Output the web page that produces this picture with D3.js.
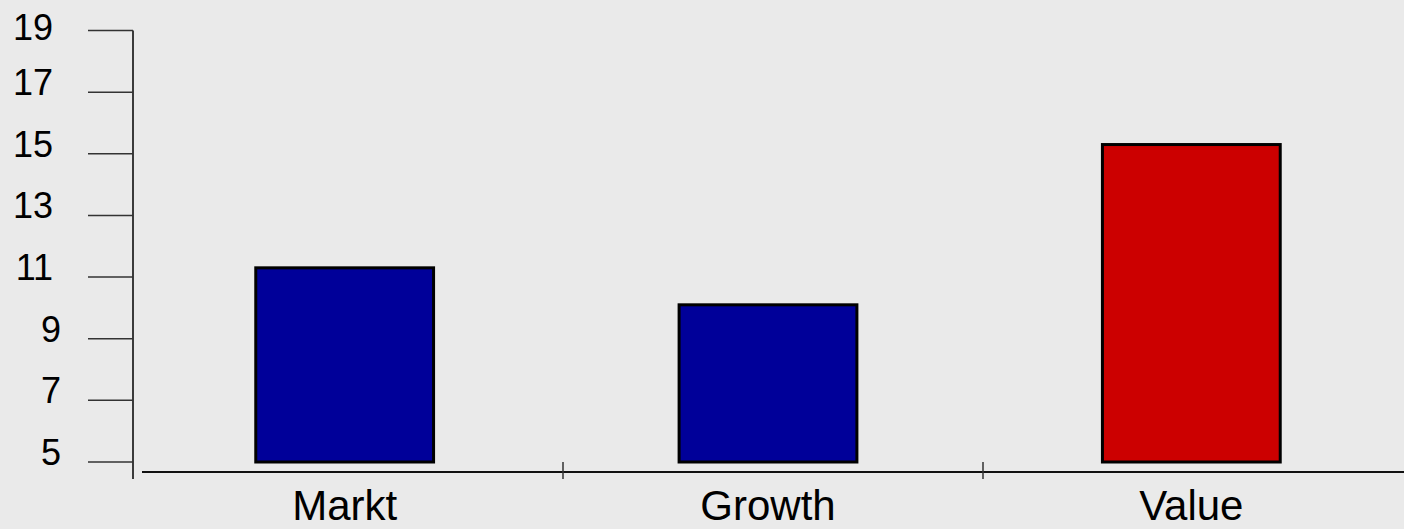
<!DOCTYPE html>
<html>
<head>
<meta charset="utf-8">
<script src="https://cdn.jsdelivr.net/npm/d3@7"></script>
<style>
  body { margin: 0; background: #eaeaea; }
  svg { display: block; background: #eaeaea; }
  text { font-family: Arial, "Liberation Sans", sans-serif; fill: #000; }
</style>
</head>
<body>
<svg width="1404" height="529"></svg>
<script>
  'use strict';

  const categories = ['Markt', 'Growth', 'Value'];
  const values = [11.3, 10.1, 15.3];
  const barColors = ['#000099', '#000099', '#cc0000'];
  const yTicks = [5, 7, 9, 11, 13, 15, 17, 19];

  const svg = d3.select('svg');

  const y = d3.scaleLinear().domain([5, 19]).range([462, 30.5]);

  // bars sit in bands measured from the y axis
  const x = d3.scaleBand().domain(categories).range([133, 1403])
      .paddingInner(0.58).paddingOuter(0.29);
  // the category tick marks on the x axis
  const xTickScale = d3.scaleBand().domain(categories).range([143, 1403]);

  // y axis: vertical line + long ticks to the left
  const yAxis = svg.append('g');
  yAxis.append('line')
      .attr('x1', 133).attr('x2', 133)
      .attr('y1', y(19)).attr('y2', 479)
      .attr('stroke', '#000').attr('stroke-width', 1.5);
  yAxis.selectAll('.ytick').data(yTicks)
    .enter().append('line')
      .attr('class', 'ytick')
      .attr('x1', 88).attr('x2', 133)
      .attr('y1', d => y(d)).attr('y2', d => y(d))
      .attr('stroke', '#333').attr('stroke-width', 1.5);
  yAxis.selectAll('.ylab').data(yTicks)
    .enter().append('text')
      .attr('class', 'ylab')
      .attr('x', d => d < 10 ? 61 : 53)
      .attr('y', d => d === 19 ? y(d) + 9 : y(d) + 3)
      .attr('text-anchor', 'end')
      .style('font-size', '36px')
      .text(d => d);

  // bars
  svg.selectAll('.bar').data(values)
    .enter().append('rect')
      .attr('class', 'bar')
      .attr('x', (d, i) => x(categories[i]))
      .attr('width', x.bandwidth())
      .attr('y', d => y(d))
      .attr('height', d => y(5) - y(d))
      .attr('fill', (d, i) => barColors[i])
      .attr('stroke', '#000')
      .attr('stroke-width', 3);

  // x axis
  svg.append('line')
      .attr('x1', 142).attr('x2', 1404)
      .attr('y1', 472).attr('y2', 472)
      .attr('stroke', '#111').attr('stroke-width', 2);
  svg.selectAll('.xtick').data(categories.slice(1))
    .enter().append('line')
      .attr('class', 'xtick')
      .attr('x1', d => xTickScale(d)).attr('x2', d => xTickScale(d))
      .attr('y1', 462).attr('y2', 479)
      .attr('stroke', '#333').attr('stroke-width', 1.5);
  svg.selectAll('.xlab').data(categories)
    .enter().append('text')
      .attr('class', 'xlab')
      .attr('x', d => x(d) + x.bandwidth() / 2)
      .attr('y', 520)
      .attr('text-anchor', 'middle')
      .style('font-size', '42px')
      .text(d => d);
</script>
</body>
</html>
